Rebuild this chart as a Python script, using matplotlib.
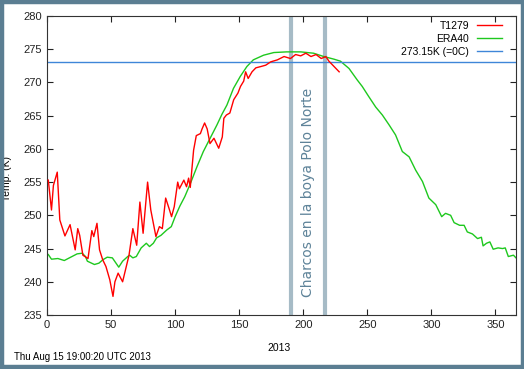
import matplotlib
matplotlib.use("Agg")
import matplotlib.pyplot as plt
from matplotlib.patches import Rectangle

plt.rcParams['font.family'] = ['Liberation Sans', 'DejaVu Sans']

# T1279 (rojo), dia del anyo y temperatura (K)
dias_t1279 = [1, 3.5, 5, 8, 10, 14, 18, 22, 24, 25.5, 28, 32, 35, 36.5, 39, 41,
              43.5, 46, 49, 51.5, 53, 55.5, 59, 61.5, 64, 67, 70, 72.5, 75, 78.5,
              81, 85, 87.7, 90, 92.6, 95.3, 97.2, 99.3, 102, 103.3, 106.8, 108.9,
              110.5, 111.8, 114.4, 116.5, 119.7, 121, 123, 125, 127.2, 130.3, 134,
              136.8, 138, 140, 142.7, 145.7, 149, 151, 153.5, 155, 157, 160, 163,
              167, 170.7, 174.6, 179.8, 185, 190, 194, 198, 202, 206, 210, 214,
              217.6, 220, 224, 228]
temp_t1279 = [255.3, 250.8, 254.5, 256.5, 249.3, 246.9, 248.6, 244.8, 248, 247,
              244, 243.5, 247.7, 246.8, 248.8, 244.8, 243.3, 242.3, 240.3, 237.8,
              240, 241.3, 240, 242, 244, 248, 245.5, 252, 247.3, 255, 250.8, 246.8,
              248.3, 248, 252.6, 251, 249.8, 251.3, 255, 254, 255.3, 254.3, 255.6,
              254.2, 259.8, 262, 262.3, 263, 263.9, 263, 260.8, 261.6, 260.1, 261.8,
              264.6, 265.1, 265.4, 267.4, 268.4, 269.4, 270.2, 271.6, 270.6, 271.6,
              272.2, 272.4, 272.6, 273.1, 273.4, 273.9, 273.6, 274.2, 274, 274.4,
              273.9, 274.2, 273.6, 273.9, 273.2, 272.4, 271.6]

# ERA40 (verde)
dias_era40 = [1, 3.5, 8.5, 13.5, 18.5, 23.5, 27.5, 30, 31.5, 37, 40.5, 43.5, 47,
              51, 56, 59, 63, 64.5, 67, 69.7, 73.5, 77.5, 80, 83, 85.5, 89, 93.5,
              97, 100, 103.7, 107.5, 111.7, 117, 122, 127.3, 132.6, 136.5, 140.4,
              145.5, 150.8, 156, 161, 169, 177, 187, 198, 208, 216, 224, 229, 235.7,
              242, 246, 251, 256.5, 261.7, 267, 272, 277.3, 282.6, 287.7, 293, 298,
              303.4, 308, 311, 315, 317.7, 322, 325.5, 328, 332, 336, 339, 340.3,
              343, 345.6, 348.2, 352, 355.5, 357.6, 360, 364, 366]
temp_era40 = [244.1, 243.4, 243.5, 243.2, 243.7, 244.2, 244.3, 243.8, 243.1, 242.6,
              242.8, 243.3, 243.7, 243.6, 242.2, 243.1, 243.8, 244, 243.6, 243.8,
              245.1, 245.8, 245.3, 245.8, 246.6, 247, 247.8, 248.3, 249.8, 251.4,
              252.8, 254.7, 257.3, 259.6, 261.6, 263.6, 265.2, 266.6, 269.1, 270.9,
              272.4, 273.4, 274.1, 274.5, 274.6, 274.6, 274.4, 273.9, 273.5, 273.2,
              272.1, 270.4, 269.4, 267.9, 266.3, 265.1, 263.6, 262.1, 259.6, 258.8,
              256.8, 255.1, 252.6, 251.6, 249.8, 250.3, 250, 248.9, 248.5, 248.5,
              247.5, 247.2, 246.5, 246.7, 245.4, 245.8, 246, 244.9, 245.1, 245.0,
              245.1, 243.8, 244, 243.6]

cero_c = 273.15
charcos = [190.6, 217.1]

fig = plt.figure(figsize=(5.24, 3.69), dpi=100)
fig.patch.set_facecolor('white')
# marco oscuro alrededor de la imagen
fig.patches.append(Rectangle((1.5 / 524, 2 / 369), 521 / 524, 365.5 / 369,
                             transform=fig.transFigure, facecolor='none',
                             edgecolor='#5b7e92', lw=3.2, zorder=5))

ax = fig.add_axes([47 / 524, 54 / 369, 469 / 524, 299 / 369])
ax.set_facecolor('white')

ax.axvline(charcos[0], color='#a6bbc6', lw=3, zorder=1)
ax.axvline(charcos[1], color='#a6bbc6', lw=3, zorder=1)
ax.text(sum(charcos) / 2, 253.5, 'Charcos en la boya Polo Norte', rotation=90,
        ha='center', va='center', color='#5e8399', fontsize=10,
        family='DejaVu Sans')

ax.plot(dias_t1279, temp_t1279, color='#ff0000', lw=1, label='T1279', zorder=3)
ax.plot(dias_era40, temp_era40, color='#1ec81e', lw=1, label='ERA40', zorder=2)
ax.axhline(cero_c, color='#3f86d8', lw=1, label='273.15K (=0C)', zorder=2)

ax.set_xlim(0, 366)
ax.set_ylim(235, 280)
ax.set_xticks(range(0, 366, 50))
ax.set_yticks(range(235, 281, 5))
ax.tick_params(direction='in', top=True, right=True, labelsize=8, length=4,
               colors='#222222')
for s in ax.spines.values():
    s.set_color('#333333')

ax.set_xlabel('2013', fontsize=7.5)
ax.xaxis.set_label_coords(0.495, -0.095)
ax.set_ylabel('Temp. (K)', fontsize=7.5)
ax.yaxis.set_label_coords(-0.075, 0.455)

leg = ax.legend(loc='upper right', bbox_to_anchor=(1 - 9 / 469, 1),
                fontsize=7.5, frameon=False, markerfirst=False,
                handlelength=2.4, labelspacing=0.3, borderaxespad=0.05,
                handletextpad=0.8)
for t in leg.get_texts():
    t.set_ha('right')

fig.text(14 / 524, 1 - 357 / 369, 'Thu Aug 15 19:00:20 UTC 2013', fontsize=7,
         va='center', ha='left')

fig.savefig('out.png', dpi=100)
